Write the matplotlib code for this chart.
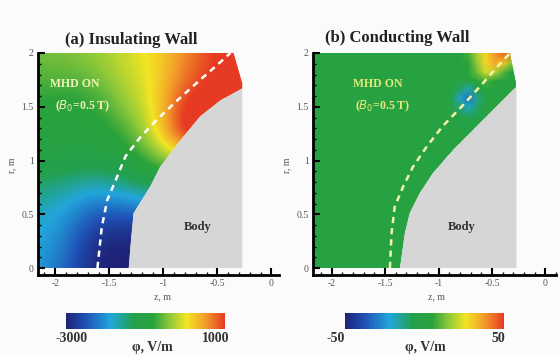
import numpy as np
import matplotlib
matplotlib.use("Agg")
import matplotlib.pyplot as plt
from matplotlib.colors import LinearSegmentedColormap, Normalize
from matplotlib.patches import Polygon
from matplotlib.ticker import MultipleLocator

plt.rcParams['font.family'] = ['Liberation Serif', 'DejaVu Serif']

# ---- panel (a): insulating wall, field values (V/m)
xa = [-2.16, -1.89, -1.62, -1.35, -1.08, -0.81, -0.54, -0.27]
ya = [0.0, 0.25, 0.5, 0.75, 1.0, 1.25, 1.5, 1.75, 2.0]
ea = [
    [-1950, -2400, -3000, -3000, -3000, -3000, -3000, -3000],
    [-1850, -2200, -2950, -3000, -3000, -3000, -3000, -3000],
    [-1750, -2000, -2500, -2500, -2400, -2400, -2400, -2400],
    [-1450, -1650, -1800, -1600, -1300, -1300, -1300, -1300],
    [-1050, -1100, -1150, -1000, -600, -300, -300, -300],
    [-950, -1000, -950, -750, -100, 1300, 1400, 1400],
    [-850, -900, -800, -400, 50, 1100, 1300, 1300],
    [-650, -650, -550, -200, 50, 750, 1050, 1100],
    [-500, -450, -350, -100, 100, 550, 1000, 1100],
]
body_a_x = [-1.32, -1.30, -1.275, -1.12, -1.03, -0.84, -0.66, -0.47, -0.27]
body_a_y = [0.0, 0.25, 0.51, 0.76, 0.94, 1.19, 1.41, 1.56, 1.67]
dash_a_x = [-1.61, -1.57, -1.52, -1.44, -1.35, -1.21, -1.06, -0.87, -0.66, -0.50, -0.38]
dash_a_y = [0.0, 0.38, 0.63, 0.82, 1.04, 1.22, 1.38, 1.56, 1.75, 1.89, 2.0]

# ---- panel (b): conducting wall (V/m)
xb = [-2.16, -1.0, -0.88, -0.8, -0.72, -0.64, -0.56, -0.48, -0.40, -0.33, -0.25]
yb = [0.0, 1.2, 1.4, 1.5, 1.58, 1.66, 1.74, 1.82, 1.9, 2.0]
eb = [
    [0, 0, 0, 0, 0, 0, 0, 0, 0, 0, 0],
    [0, 0, 0, 0, 0, 0, 0, 0, 0, 0, 0],
    [0, 0, 0, -3, -5, -3, 0, 0, 0, 0, 0],
    [0, 0, 0, -12, -20, -10, 0, 0, 0, 0, 0],
    [0, 0, -3, -20, -32, -15, 0, 0, 0, 0, 0],
    [0, 0, 0, -10, -18, -8, 0, 0, 0, 0, 0],
    [0, 0, 0, 0, 0, 5, 8, 5, 0, 0, 0],
    [0, 0, 0, 0, 3, 12, 22, 20, 10, 3, 0],
    [0, 0, 0, 0, 5, 15, 28, 35, 30, 15, 5],
    [0, 0, 0, 0, 8, 18, 28, 38, 45, 40, 20],
]
body_b_x = [-1.36, -1.315, -1.27, -1.175, -1.05, -0.86, -0.68, -0.49, -0.30, -0.27]
body_b_y = [0.0, 0.33, 0.51, 0.70, 0.88, 1.10, 1.28, 1.47, 1.66, 1.68]
dash_b_x = [-1.455, -1.44, -1.41, -1.33, -1.24, -1.11, -0.96, -0.785, -0.61, -0.46, -0.33]
dash_b_y = [0.0, 0.32, 0.57, 0.76, 0.94, 1.13, 1.32, 1.50, 1.69, 1.86, 2.0]

cmap = LinearSegmentedColormap.from_list('tec', [
    (0.0, '#1e2378'), (0.12, '#1f50b5'), (0.28, '#22a6dc'), (0.42, '#22a050'),
    (0.55, '#2aa33a'), (0.65, '#8cc83a'), (0.76, '#f2e524'), (0.88, '#f29a2a'),
    (1.0, '#e63a22')])

W, H = 560, 356
fig = plt.figure(figsize=(5.6, 3.56), dpi=100, facecolor='#fbfbfb')


def style_axes(ax, xlim):
    ax.set_xlim(*xlim)
    ax.set_ylim(-0.065, 2.0)
    ax.set_facecolor('none')
    for s in ['top', 'right']:
        ax.spines[s].set_visible(False)
    for s in ['left', 'bottom']:
        ax.spines[s].set_linewidth(2)
    ax.set_xticks([-2, -1.5, -1, -0.5, 0])
    ax.set_xticklabels(['-2', '-1.5', '-1', '-0.5', '0'])
    ax.set_yticks([0, 0.5, 1, 1.5, 2])
    ax.set_yticklabels(['0', '0.5', '1', '1.5', '2'])
    ax.xaxis.set_minor_locator(MultipleLocator(0.1))
    ax.yaxis.set_minor_locator(MultipleLocator(0.1))
    ax.tick_params(which='major', direction='in', length=5, width=1.5,
                   labelsize=7, labelcolor='#555555', pad=3)
    ax.tick_params(which='minor', direction='in', length=2.5, width=1)


# panel (a)
axa = fig.add_axes([38 / W, 81 / H, 241 / W, 222 / H])
style_axes(axa, (-2.16, 0.07))
norm_a = Normalize(-3000, 1000)
dx, dy = xa[1] - xa[0], ya[1] - ya[0]
im_a = axa.imshow(np.array(ea), origin='lower', cmap=cmap, norm=norm_a,
                  interpolation='bicubic', aspect='auto',
                  extent=[xa[0] - dx / 2, xa[-1] + dx / 2, ya[0] - dy / 2, ya[-1] + dy / 2])
dom_a = [(-2.16, 0)] + list(zip(body_a_x, body_a_y)) + [(-0.27, 1.72), (-0.35, 2.0), (-2.16, 2.0)]
im_a.set_clip_path(Polygon(dom_a, closed=True, transform=axa.transData))
axa.add_patch(Polygon([(-0.27, 0)] + list(zip(body_a_x, body_a_y)), closed=True,
                      facecolor='#d6d6d6', edgecolor='none'))
axa.plot(dash_a_x, dash_a_y, color='white', lw=1.8, ls=(0, (2.5, 2)))
axa.text(-2.05, 1.68, 'MHD ON', color='#f2f2b8', fontsize=8.5, fontweight='bold')
axa.text(-2.0, 1.48, '($B_0$=0.5 T)', color='#f2f2b8', fontsize=8.5, fontweight='bold')
axa.text(-0.68, 0.38, 'Body', color='#333333', fontsize=9, fontweight='bold',
         ha='center', va='center')
axa.set_xlim(-2.16, 0.07)
axa.set_ylim(-0.065, 2.0)

# panel (b)
axb = fig.add_axes([313 / W, 81 / H, 243 / W, 222 / H])
style_axes(axb, (-2.175, 0.1))
norm_b = Normalize(-50, 50)
im_b = axb.pcolormesh(xb, yb, np.array(eb), cmap=cmap, norm=norm_b, shading='gouraud')
dom_b = [(-2.175, 0)] + list(zip(body_b_x, body_b_y)) + [(-0.27, 1.72), (-0.33, 2.0), (-2.175, 2.0)]
im_b.set_clip_path(Polygon(dom_b, closed=True, transform=axb.transData))
axb.add_patch(Polygon([(-0.27, 0)] + list(zip(body_b_x, body_b_y)), closed=True,
                      facecolor='#d6d6d6', edgecolor='none'))
axb.plot(dash_b_x, dash_b_y, color='#f4f4a8', lw=1.8, ls=(0, (2.5, 2)))
axb.text(-1.8, 1.68, 'MHD ON', color='#e8e878', fontsize=8.5, fontweight='bold')
axb.text(-1.78, 1.48, '($B_0$=0.5 T)', color='#e8e878', fontsize=8.5, fontweight='bold')
axb.text(-0.785, 0.38, 'Body', color='#333333', fontsize=9, fontweight='bold',
         ha='center', va='center')
axb.set_xlim(-2.175, 0.1)
axb.set_ylim(-0.065, 2.0)

# titles and axis labels
fig.text(131 / W, 1 - 40 / H, '(a) Insulating Wall', ha='center', va='center',
         fontsize=12, fontweight='bold', color='#222222')
fig.text(397 / W, 1 - 38 / H, '(b) Conducting Wall', ha='center', va='center',
         fontsize=12, fontweight='bold', color='#222222')
for xz, xr in [(163, 12), (437, 287)]:
    fig.text(xz / W, 1 - 297 / H, 'z, m', ha='center', va='center', fontsize=7, color='#555555')
    fig.text(xr / W, 1 - 165 / H, 'r, m', ha='center', va='center', fontsize=7,
             color='#555555', rotation=90)

# colour bars
for left, im, lo, hi, xlo, xhi, xl in [(66, im_a, '-3000', '1000', 72, 216, 152),
                                       (345, im_b, '-50', '50', 336, 498, 425)]:
    cax = fig.add_axes([left / W, 27 / H, 159 / W, 16 / H])
    cb = fig.colorbar(im, cax=cax, orientation='horizontal')
    cb.outline.set_visible(False)
    cb.set_ticks([])
    fig.text(xlo / W, 1 - 339 / H, lo, ha='center', va='center', fontsize=10,
             fontweight='bold', color='#333333')
    fig.text(xhi / W, 1 - 339 / H, hi, ha='center', va='center', fontsize=10,
             fontweight='bold', color='#333333')
    fig.text(xl / W, 1 - 347 / H, 'φ, V/m', ha='center', va='center', fontsize=10,
             fontweight='bold', color='#333333')

fig.savefig('out.png', dpi=100, facecolor=fig.get_facecolor())
